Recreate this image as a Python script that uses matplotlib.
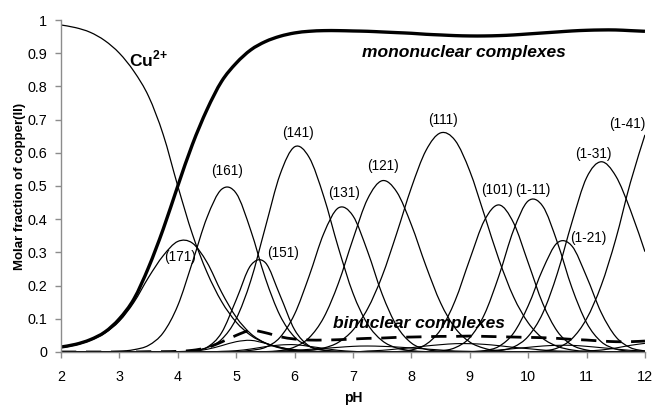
import numpy as np
import matplotlib
matplotlib.use("Agg")
from matplotlib import pyplot as plt
from matplotlib.path import Path
from matplotlib.patches import PathPatch
from matplotlib.ticker import FormatStrFormatter

plt.rcParams["font.family"] = ["Liberation Sans", "DejaVu Sans"]
plt.rcParams["mathtext.fontset"] = "custom"
plt.rcParams["mathtext.rm"] = "Liberation Sans"
plt.rcParams["mathtext.bf"] = "Liberation Sans:bold"

# pH readings, 2 .. 12 in steps of 0.25
ph = np.linspace(2, 12, 41)

cu_free = [0.985, 0.977, 0.963, 0.938, 0.90, 0.845, 0.77, 0.655, 0.50, 0.355, 0.24, 0.152, 0.09,
           0.05, 0.027, 0.014, 0.007, 0.003, 0.001, 0, 0, 0, 0, 0, 0, 0, 0, 0, 0, 0, 0, 0, 0, 0, 0,
           0, 0, 0, 0, 0, 0]
mono_total = [0.015, 0.023, 0.037, 0.06, 0.10, 0.16, 0.255, 0.37, 0.50, 0.625, 0.73, 0.815, 0.87,
              0.91, 0.935, 0.951, 0.961, 0.966, 0.968, 0.968, 0.967, 0.966, 0.964, 0.962, 0.96,
              0.957, 0.955, 0.953, 0.952, 0.952, 0.953, 0.955, 0.958, 0.961, 0.964, 0.967, 0.969,
              0.970, 0.970, 0.968, 0.966]
binu_total = [0, 0, 0, 0, 0, 0, 0.001, 0.001, 0.002, 0.005, 0.013, 0.03, 0.05, 0.065, 0.058, 0.046,
              0.039, 0.036, 0.036, 0.037, 0.039, 0.041, 0.042, 0.044, 0.045, 0.046, 0.047, 0.047,
              0.048, 0.047, 0.046, 0.045, 0.044, 0.043, 0.041, 0.038, 0.036, 0.033, 0.031, 0.031,
              0.033]

# mononuclear species (pqr)
s171 = [0.013, 0.021, 0.035, 0.057, 0.093, 0.15, 0.225, 0.29, 0.333, 0.328, 0.27, 0.18, 0.105,
        0.055, 0.027, 0.012, 0.005, 0.002, 0.001, 0, 0, 0, 0, 0, 0, 0, 0, 0, 0, 0, 0, 0, 0, 0, 0,
        0, 0, 0, 0, 0, 0]
s161 = [0, 0, 0, 0.001, 0.002, 0.007, 0.02, 0.058, 0.14, 0.27, 0.405, 0.49, 0.478, 0.366, 0.222,
        0.11, 0.045, 0.017, 0.006, 0.002, 0, 0, 0, 0, 0, 0, 0, 0, 0, 0, 0, 0, 0, 0, 0, 0, 0, 0, 0,
        0, 0]
s151 = [0, 0, 0, 0, 0, 0, 0, 0, 0.001, 0.004, 0.014, 0.058, 0.157, 0.261, 0.269, 0.171, 0.067,
        0.018, 0.005, 0.001, 0, 0, 0, 0, 0, 0, 0, 0, 0, 0, 0, 0, 0, 0, 0, 0, 0, 0, 0, 0, 0]
s141 = [0, 0, 0, 0, 0, 0, 0, 0, 0, 0.004, 0.013, 0.038, 0.10, 0.215, 0.376, 0.534, 0.618, 0.586,
        0.468, 0.314, 0.177, 0.084, 0.034, 0.012, 0.004, 0.001, 0, 0, 0, 0, 0, 0, 0, 0, 0, 0, 0,
        0, 0, 0, 0]
s131 = [0, 0, 0, 0, 0, 0, 0, 0, 0, 0, 0, 0, 0.001, 0.005, 0.014, 0.044, 0.114, 0.229, 0.357, 0.434,
        0.41, 0.303, 0.174, 0.078, 0.027, 0.008, 0.002, 0, 0, 0, 0, 0, 0, 0, 0, 0, 0, 0, 0, 0, 0]
s121 = [0, 0, 0, 0, 0, 0, 0, 0, 0, 0, 0, 0, 0, 0, 0.001, 0.004, 0.015, 0.043, 0.104, 0.207, 0.34,
        0.461, 0.516, 0.482, 0.383, 0.259, 0.148, 0.072, 0.030, 0.011, 0.003, 0.001, 0, 0, 0, 0,
        0, 0, 0, 0, 0]
s111 = [0, 0, 0, 0, 0, 0, 0, 0, 0, 0, 0, 0, 0, 0, 0, 0, 0.002, 0.005, 0.012, 0.029, 0.066, 0.13,
        0.229, 0.358, 0.495, 0.607, 0.66, 0.637, 0.545, 0.413, 0.278, 0.166, 0.088, 0.041, 0.017,
        0.006, 0.002, 0, 0, 0, 0]
s101 = [0, 0, 0, 0, 0, 0, 0, 0, 0, 0, 0, 0, 0, 0, 0, 0, 0, 0, 0, 0, 0, 0, 0, 0.001, 0.006, 0.023,
        0.067, 0.155, 0.279, 0.396, 0.443, 0.389, 0.269, 0.146, 0.062, 0.021, 0.006, 0.002, 0, 0, 0]
s1m11 = [0, 0, 0, 0, 0, 0, 0, 0, 0, 0, 0, 0, 0, 0, 0, 0, 0, 0, 0, 0, 0, 0, 0, 0, 0, 0.001, 0.003,
         0.013, 0.043, 0.113, 0.23, 0.367, 0.455, 0.439, 0.33, 0.193, 0.088, 0.031, 0.009, 0.002, 0]
s1m21 = [0, 0, 0, 0, 0, 0, 0, 0, 0, 0, 0, 0, 0, 0, 0, 0, 0, 0, 0, 0, 0, 0, 0, 0, 0, 0, 0, 0, 0.001,
         0.004, 0.017, 0.057, 0.139, 0.249, 0.329, 0.319, 0.227, 0.119, 0.046, 0.013, 0.003]
s1m31 = [0, 0, 0, 0, 0, 0, 0, 0, 0, 0, 0, 0, 0, 0, 0, 0, 0, 0, 0, 0, 0, 0, 0, 0, 0, 0, 0, 0, 0,
         0.001, 0.004, 0.015, 0.047, 0.117, 0.237, 0.391, 0.525, 0.573, 0.53, 0.428, 0.302]
s1m41 = [0, 0, 0, 0, 0, 0, 0, 0, 0, 0, 0, 0, 0, 0, 0, 0, 0, 0, 0, 0, 0, 0, 0, 0, 0, 0, 0, 0, 0, 0,
         0, 0, 0.001, 0.003, 0.012, 0.04, 0.10, 0.20, 0.34, 0.51, 0.654]

# individual binuclear species (small)
b1 = [0, 0, 0, 0, 0, 0, 0, 0, 0, 0.002, 0.008, 0.019, 0.031, 0.035, 0.026, 0.014, 0.005, 0.001, 0,
      0, 0, 0, 0, 0, 0, 0, 0, 0, 0, 0, 0, 0, 0, 0, 0, 0, 0, 0, 0, 0, 0]
b2 = [0, 0, 0, 0, 0, 0, 0, 0, 0, 0, 0, 0.002, 0.004, 0.009, 0.016, 0.021, 0.022, 0.017, 0.011,
      0.005, 0.002, 0, 0, 0, 0, 0, 0, 0, 0, 0, 0, 0, 0, 0, 0, 0, 0, 0, 0, 0, 0]
b3 = [0, 0, 0, 0, 0, 0, 0, 0, 0, 0, 0, 0, 0, 0, 0, 0.003, 0.005, 0.008, 0.011, 0.014, 0.017, 0.018,
      0.017, 0.015, 0.012, 0.009, 0.006, 0.003, 0.002, 0, 0, 0, 0, 0, 0, 0, 0, 0, 0, 0, 0]
b4 = [0, 0, 0, 0, 0, 0, 0, 0, 0, 0, 0, 0, 0, 0, 0, 0, 0, 0, 0, 0, 0, 0.003, 0.005, 0.009, 0.013,
      0.018, 0.022, 0.025, 0.025, 0.023, 0.019, 0.014, 0.010, 0.006, 0.003, 0.002, 0, 0, 0, 0, 0]
b5 = [0, 0, 0, 0, 0, 0, 0, 0, 0, 0, 0, 0, 0, 0, 0, 0, 0, 0, 0, 0, 0, 0, 0, 0, 0, 0, 0, 0, 0.001,
      0.003, 0.006, 0.010, 0.014, 0.018, 0.02, 0.02, 0.017, 0.013, 0.009, 0.005, 0.003]
b6 = [0, 0, 0, 0, 0, 0, 0, 0, 0, 0, 0, 0, 0, 0, 0, 0, 0, 0, 0, 0, 0, 0, 0, 0, 0, 0, 0, 0, 0, 0, 0,
      0, 0, 0, 0, 0, 0.003, 0.006, 0.012, 0.02, 0.026]

species = [s171, s161, s151, s141, s131, s121, s111, s101, s1m11, s1m21, s1m31, s1m41]
binuclear = [b1, b2, b3, b4, b5, b6]

# label text with (pH, fraction) of its centre
labels = [("(171)", 4.04, 0.286), ("(161)", 4.84, 0.546), ("(151)", 5.81, 0.297),
          ("(141)", 6.05, 0.66), ("(131)", 6.85, 0.478), ("(121)", 7.52, 0.56),
          ("(111)", 8.55, 0.699), ("(101)", 9.46, 0.488), ("(1-11)", 10.08, 0.488),
          ("(1-21)", 11.03, 0.342), ("(1-31)", 11.12, 0.596), ("(1-41)", 11.70, 0.687)]


def smooth_path(x, y):
    # Catmull-Rom through the points, written as cubic Bezier pieces
    pts = np.column_stack([x, y])
    ext = np.vstack([pts[0], pts, pts[-1]])
    verts = [pts[0]]
    codes = [Path.MOVETO]
    for i in range(len(pts) - 1):
        p0, p1, p2, p3 = ext[i], ext[i + 1], ext[i + 2], ext[i + 3]
        verts += [p1 + (p2 - p0) / 6, p2 - (p3 - p1) / 6, p2]
        codes += [Path.CURVE4] * 3
    return Path(verts, codes)


def draw_curve(ax, y, **kw):
    ax.add_patch(PathPatch(smooth_path(ph, np.asarray(y, dtype=float)), fill=False, **kw))


fig = plt.figure(figsize=(6.53, 4.05), dpi=100)
ax = fig.add_axes([0.0934, 0.1309, 0.8943, 0.8197])

for b in binuclear:
    draw_curve(ax, b, color="black", lw=0.8)
for s in species:
    draw_curve(ax, s, color="black", lw=0.9)
draw_curve(ax, cu_free, color="black", lw=0.9)
draw_curve(ax, binu_total, color="black", lw=2.0, linestyle=(0, (5.5, 3.5)), capstyle="butt")
draw_curve(ax, mono_total, color="black", lw=2.4)

for txt, x, y in labels:
    ax.text(x, y, txt, fontsize=9.8, ha="center", va="center")

ax.text(3.164, 0.861, r"Cu$^{\mathbf{2{+}}}$", fontsize=12.5, fontweight="bold", ha="left",
        va="baseline")
ax.text(7.15, 0.889, "mononuclear complexes", fontsize=12.5, fontweight="bold",
        fontstyle="italic", ha="left", va="baseline")
ax.text(6.66, 0.071, "binuclear complexes", fontsize=12.5, fontweight="bold",
        fontstyle="italic", ha="left", va="baseline")

ax.set_xlim(2, 12)
ax.set_ylim(0, 1)
ax.set_xticks(range(2, 13))
ax.set_yticks(np.linspace(0, 1, 11))
ax.yaxis.set_major_formatter(FormatStrFormatter("%g"))
for side in ["top", "right"]:
    ax.spines[side].set_visible(False)
for side in ["left", "bottom"]:
    ax.spines[side].set_color("#8c8c8c")
    ax.spines[side].set_linewidth(1.0)
ax.tick_params(axis="both", direction="out", length=4, width=1, color="#8c8c8c",
               labelsize=10.4)
ax.tick_params(axis="x", pad=9)
ax.tick_params(axis="y", pad=6)

ax.set_xlabel("pH", fontsize=10, fontweight="bold", labelpad=5)
ax.set_ylabel("Molar fraction of copper(II)", fontsize=9.5, fontweight="bold", labelpad=1)

fig.savefig("out.png", dpi=100)
